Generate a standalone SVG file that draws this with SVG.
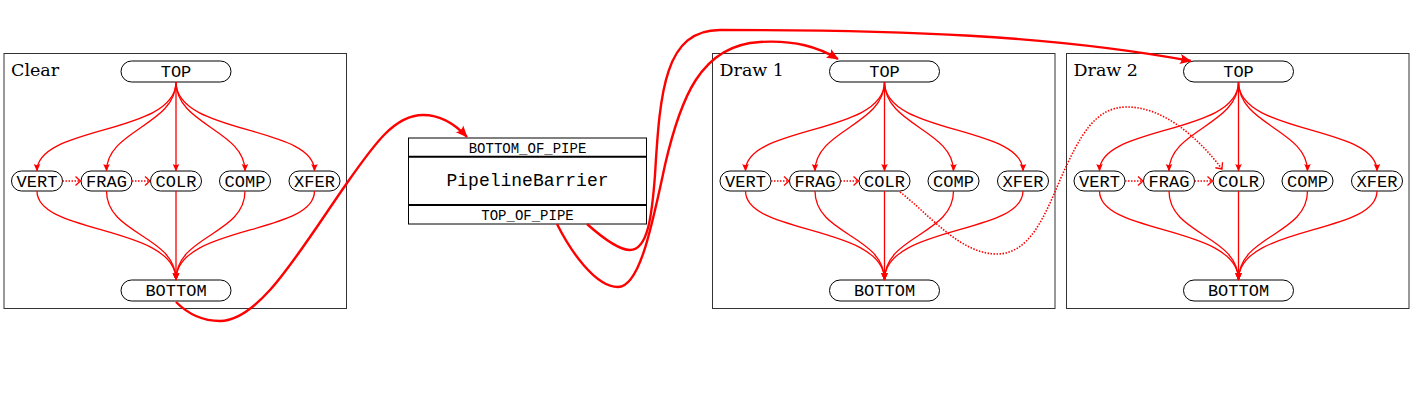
<svg xmlns="http://www.w3.org/2000/svg" width="1415" height="403" viewBox="0 0 1415 403">
<style>
.panel{fill:none;stroke:#333;stroke-width:1}
.node{fill:#fff;stroke:#000;stroke-width:1}
.lbl{font-family:"Liberation Mono","DejaVu Sans Mono",monospace;font-size:17px;text-anchor:middle;fill:#000}
.small{font-family:"Liberation Mono","DejaVu Sans Mono",monospace;font-size:14px;text-anchor:middle;fill:#000}
.big{font-family:"Liberation Mono","DejaVu Sans Mono",monospace;font-size:18px;text-anchor:middle;fill:#000}
.title{font-family:"DejaVu Serif","Liberation Serif",serif;font-size:17.5px;fill:#000}
.e{fill:none;stroke:#f00;stroke-width:1.3;marker-end:url(#ah)}
.d{fill:none;stroke:#f00;stroke-width:1.6;stroke-dasharray:1.5 1.5;marker-end:url(#oa)}
.b{fill:none;stroke:#f00;stroke-width:2.4;marker-end:url(#bh)}
</style>
<defs>
<marker id="ah" viewBox="-8 -4 9 8" refX="0" refY="0" markerWidth="9" markerHeight="8" orient="auto" markerUnits="userSpaceOnUse"><path d="M0.5,0 L-7,-3.3 Q-5,0 -7,3.3 Z" fill="#f00"/></marker>
<marker id="bh" viewBox="-12 -6 13 12" refX="0" refY="0" markerWidth="13" markerHeight="12" orient="auto" markerUnits="userSpaceOnUse"><path d="M0.8,0 L-11,-5 Q-7.5,0 -11,5 Z" fill="#f00"/></marker>
<marker id="oa" viewBox="-7 -6 8 12" refX="0" refY="0" markerWidth="8" markerHeight="12" orient="auto" markerUnits="userSpaceOnUse"><path d="M-5,-4.5 Q-1.5,-1.2 0,0 Q-1.5,1.2 -5,4.5" fill="none" stroke="#f00" stroke-width="1.3"/></marker>
</defs>

<g id="panel-clear">
<rect class="panel" x="4" y="53.5" width="342.5" height="255"/>
<text class="title" x="11" y="76">Clear</text>
<g id="clear-top"><rect class="node" x="121" y="61" width="110" height="21" rx="10.5"/><text class="lbl" x="176" y="77">TOP</text></g>
<g id="clear-vert"><rect class="node" x="11.5" y="171" width="51" height="20" rx="10"/><text class="lbl" x="37" y="187">VERT</text></g>
<g id="clear-frag"><rect class="node" x="81" y="171" width="51" height="20" rx="10"/><text class="lbl" x="106.5" y="187">FRAG</text></g>
<g id="clear-colr"><rect class="node" x="150.5" y="171" width="51" height="20" rx="10"/><text class="lbl" x="176" y="187">COLR</text></g>
<g id="clear-comp"><rect class="node" x="219.5" y="171" width="51" height="20" rx="10"/><text class="lbl" x="245" y="187">COMP</text></g>
<g id="clear-xfer"><rect class="node" x="289" y="171" width="51" height="20" rx="10"/><text class="lbl" x="314.5" y="187">XFER</text></g>
<g id="clear-bottom"><rect class="node" x="121" y="280" width="110" height="21" rx="10.5"/><text class="lbl" x="176" y="296">BOTTOM</text></g>
</g>

<g id="panel-draw1" transform="translate(708.5,0)">
<rect class="panel" x="4" y="53.5" width="342.5" height="255"/>
<text class="title" x="11" y="76">Draw 1</text>
<g id="draw1-top"><rect class="node" x="121" y="61" width="110" height="21" rx="10.5"/><text class="lbl" x="176" y="77">TOP</text></g>
<g id="draw1-vert"><rect class="node" x="11.5" y="171" width="51" height="20" rx="10"/><text class="lbl" x="37" y="187">VERT</text></g>
<g id="draw1-frag"><rect class="node" x="81" y="171" width="51" height="20" rx="10"/><text class="lbl" x="106.5" y="187">FRAG</text></g>
<g id="draw1-colr"><rect class="node" x="150.5" y="171" width="51" height="20" rx="10"/><text class="lbl" x="176" y="187">COLR</text></g>
<g id="draw1-comp"><rect class="node" x="219.5" y="171" width="51" height="20" rx="10"/><text class="lbl" x="245" y="187">COMP</text></g>
<g id="draw1-xfer"><rect class="node" x="289" y="171" width="51" height="20" rx="10"/><text class="lbl" x="314.5" y="187">XFER</text></g>
<g id="draw1-bottom"><rect class="node" x="121" y="280" width="110" height="21" rx="10.5"/><text class="lbl" x="176" y="296">BOTTOM</text></g>
</g>

<g id="panel-draw2" transform="translate(1062.5,0)">
<rect class="panel" x="4" y="53.5" width="342.5" height="255"/>
<text class="title" x="11" y="76">Draw 2</text>
<g id="draw2-top"><rect class="node" x="121" y="61" width="110" height="21" rx="10.5"/><text class="lbl" x="176" y="77">TOP</text></g>
<g id="draw2-vert"><rect class="node" x="11.5" y="171" width="51" height="20" rx="10"/><text class="lbl" x="37" y="187">VERT</text></g>
<g id="draw2-frag"><rect class="node" x="81" y="171" width="51" height="20" rx="10"/><text class="lbl" x="106.5" y="187">FRAG</text></g>
<g id="draw2-colr"><rect class="node" x="150.5" y="171" width="51" height="20" rx="10"/><text class="lbl" x="176" y="187">COLR</text></g>
<g id="draw2-comp"><rect class="node" x="219.5" y="171" width="51" height="20" rx="10"/><text class="lbl" x="245" y="187">COMP</text></g>
<g id="draw2-xfer"><rect class="node" x="289" y="171" width="51" height="20" rx="10"/><text class="lbl" x="314.5" y="187">XFER</text></g>
<g id="draw2-bottom"><rect class="node" x="121" y="280" width="110" height="21" rx="10.5"/><text class="lbl" x="176" y="296">BOTTOM</text></g>
</g>

<g id="barrier">
<rect x="408.5" y="138" width="238" height="86" fill="#fff" stroke="#000" stroke-width="1"/>
<line x1="408.5" y1="156.8" x2="646.5" y2="156.8" stroke="#000" stroke-width="2"/>
<line x1="408.5" y1="205" x2="646.5" y2="205" stroke="#000" stroke-width="2"/>
<text class="small" x="527.5" y="152.5">BOTTOM_OF_PIPE</text>
<text class="big" x="527.5" y="186">PipelineBarrier</text>
<text class="small" x="527.5" y="220">TOP_OF_PIPE</text>
</g>

<g id="connectors">
<g id="conn-clear">
<path class="e" d="M176,82 C176,135 37,125 37,171"/>
<path class="e" d="M176,82 C176,125 106.5,130 106.5,171"/>
<path class="e" d="M176,82 L176,171"/>
<path class="e" d="M176,82 C176,125 245,130 245,171"/>
<path class="e" d="M176,82 C176,135 314.5,125 314.5,171"/>
<path class="e" d="M37,191 C37,235 176,225 176,280"/>
<path class="e" d="M106.5,191 C106.5,235 176,235 176,280"/>
<path class="e" d="M176,191 L176,280"/>
<path class="e" d="M245,191 C245,235 176,235 176,280"/>
<path class="e" d="M314.5,191 C314.5,235 176,225 176,280"/>
<path class="d" d="M62.5,181 L80.5,181"/>
<path class="d" d="M132,181 L150,181"/>
</g>
<g id="conn-draw1" transform="translate(708.5,0)">
<path class="e" d="M176,82 C176,135 37,125 37,171"/>
<path class="e" d="M176,82 C176,125 106.5,130 106.5,171"/>
<path class="e" d="M176,82 L176,171"/>
<path class="e" d="M176,82 C176,125 245,130 245,171"/>
<path class="e" d="M176,82 C176,135 314.5,125 314.5,171"/>
<path class="e" d="M37,191 C37,235 176,225 176,280"/>
<path class="e" d="M106.5,191 C106.5,235 176,235 176,280"/>
<path class="e" d="M176,191 L176,280"/>
<path class="e" d="M245,191 C245,235 176,235 176,280"/>
<path class="e" d="M314.5,191 C314.5,235 176,225 176,280"/>
<path class="d" d="M62.5,181 L80.5,181"/>
<path class="d" d="M132,181 L150,181"/>
</g>
<g id="conn-draw2" transform="translate(1062.5,0)">
<path class="e" d="M176,82 C176,135 37,125 37,171"/>
<path class="e" d="M176,82 C176,125 106.5,130 106.5,171"/>
<path class="e" d="M176,82 L176,171"/>
<path class="e" d="M176,82 C176,125 245,130 245,171"/>
<path class="e" d="M176,82 C176,135 314.5,125 314.5,171"/>
<path class="e" d="M37,191 C37,235 176,225 176,280"/>
<path class="e" d="M106.5,191 C106.5,235 176,235 176,280"/>
<path class="e" d="M176,191 L176,280"/>
<path class="e" d="M245,191 C245,235 176,235 176,280"/>
<path class="e" d="M314.5,191 C314.5,235 176,225 176,280"/>
<path class="d" d="M62.5,181 L80.5,181"/>
<path class="d" d="M132,181 L150,181"/>
</g>
<path class="d" d="M900,192 C930,215 960,254 997,254 C1030,254 1045,215 1060,180 C1080,135 1095,107 1127,107 C1165,107 1200,140 1222,169"/>
<path class="b" d="M176,302 C190,316 205,321 220,321 C260,321 300,250 347,183 C375,143 395,115 423,115 C440,115 455,124 467,137"/>
<path class="b" d="M557,224 C570,250 595,287 618,287 C640,287 652,225 665,165 C680,100 700,45 760,42 C795,40 818,47 838,59"/>
<path class="b" d="M587,224 C605,240 620,250 630,250 C648,250 652,215 655,175 C660,90 665,30 720,30 C900,30 1050,35 1191,61"/>
</g>
</svg>
